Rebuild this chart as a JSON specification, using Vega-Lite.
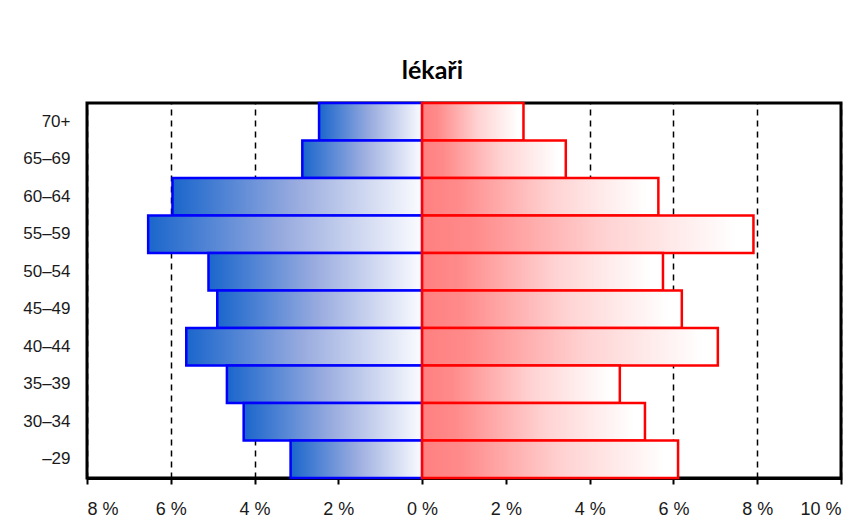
{
  "$schema": "https://vega.github.io/schema/vega-lite/v6.json",
  "width": 754,
  "height": 375,
  "autosize": {"type": "none"},
  "padding": {"left": 87, "top": 103, "right": 17, "bottom": 54},
  "background": "white",
  "title": {
    "text": "lékaři",
    "font": "Lato",
    "fontSize": 25,
    "fontWeight": "bold",
    "color": "#000000",
    "anchor": "middle",
    "frame": "bounds",
    "offset": 18
  },
  "config": {
    "view": {"stroke": "#000000", "strokeWidth": 3},
    "axis": {
      "labelColor": "#1a1a1a",
      "labelFont": "Liberation Sans"
    }
  },
  "data": {
    "values": [
      {"age": "70+", "sex": "muži", "pct": -2.46},
      {"age": "65–69", "sex": "muži", "pct": -2.86},
      {"age": "60–64", "sex": "muži", "pct": -5.96},
      {"age": "55–59", "sex": "muži", "pct": -6.54},
      {"age": "50–54", "sex": "muži", "pct": -5.1},
      {"age": "45–49", "sex": "muži", "pct": -4.89},
      {"age": "40–44", "sex": "muži", "pct": -5.63},
      {"age": "35–39", "sex": "muži", "pct": -4.66},
      {"age": "30–34", "sex": "muži", "pct": -4.26},
      {"age": "–29", "sex": "muži", "pct": -3.14},
      {"age": "70+", "sex": "ženy", "pct": 2.42},
      {"age": "65–69", "sex": "ženy", "pct": 3.43},
      {"age": "60–64", "sex": "ženy", "pct": 5.64},
      {"age": "55–59", "sex": "ženy", "pct": 7.91},
      {"age": "50–54", "sex": "ženy", "pct": 5.75},
      {"age": "45–49", "sex": "ženy", "pct": 6.2},
      {"age": "40–44", "sex": "ženy", "pct": 7.06},
      {"age": "35–39", "sex": "ženy", "pct": 4.72},
      {"age": "30–34", "sex": "ženy", "pct": 5.32},
      {"age": "–29", "sex": "ženy", "pct": 6.11}
    ]
  },
  "encoding": {
    "y": {
      "field": "age",
      "type": "nominal",
      "sort": ["70+", "65–69", "60–64", "55–59", "50–54", "45–49", "40–44", "35–39", "30–34", "–29"],
      "scale": {"paddingInner": 0, "paddingOuter": 0},
      "axis": {
        "title": null,
        "domain": false,
        "ticks": false,
        "labelPadding": 17,
        "labelFontSize": 17
      }
    }
  },
  "layer": [
    {
      "transform": [{"filter": "datum.sex === 'muži'"}],
      "mark": {
        "type": "bar",
        "stroke": "#0000ff",
        "strokeWidth": 2.5,
        "color": {
          "gradient": "linear",
          "x1": 0, "y1": 0, "x2": 1, "y2": 0,
          "stops": [
            {"offset": 0, "color": "#1a66cc"},
            {"offset": 0.5, "color": "#9aacdf"},
            {"offset": 1, "color": "#fbfcff"}
          ]
        }
      },
      "encoding": {
        "x": {
          "field": "pct",
          "type": "quantitative",
          "scale": {"domain": [-8, 10], "nice": false, "zero": false},
          "axis": {
            "title": null,
            "values": [-8, -6, -4, -2, 0, 2, 4, 6, 8, 10],
            "labelExpr": "abs(datum.value) + ' %'",
            "grid": true,
            "gridColor": "#000000",
            "gridDash": [6, 5],
            "gridWidth": 1.5,
            "domainColor": "#000000",
            "domainWidth": 3,
            "tickColor": "#000000",
            "tickWidth": 2,
            "tickSize": 6,
            "labelPadding": 16,
            "labelFontSize": 18
          }
        },
        "x2": {"datum": 0}
      }
    },
    {
      "transform": [{"filter": "datum.sex === 'ženy'"}],
      "mark": {
        "type": "bar",
        "stroke": "#ff0000",
        "strokeWidth": 2.5,
        "color": {
          "gradient": "linear",
          "x1": 0, "y1": 0, "x2": 1, "y2": 0,
          "stops": [
            {"offset": 0, "color": "#ff8080"},
            {"offset": 0.15, "color": "#ff8a8a"},
            {"offset": 0.55, "color": "#ffd2d2"},
            {"offset": 0.95, "color": "#ffffff"}
          ]
        }
      },
      "encoding": {
        "x": {"field": "pct", "type": "quantitative"},
        "x2": {"datum": 0}
      }
    },
    {
      "mark": {"type": "rule", "color": "#000000", "strokeWidth": 3},
      "encoding": {"x": {"datum": 0}}
    }
  ]
}
